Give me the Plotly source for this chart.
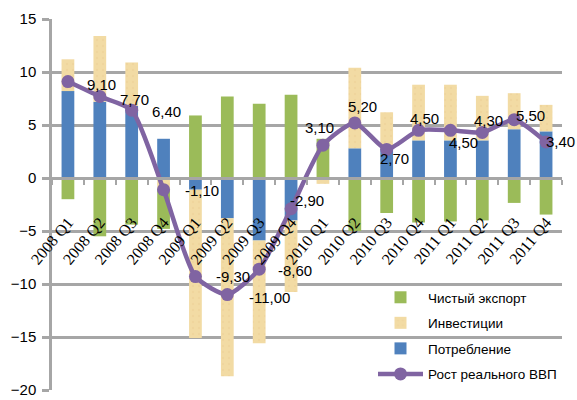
import plotly.graph_objects as go

categories = ["2008 Q1", "2008 Q2", "2008 Q3", "2008 Q4",
              "2009 Q1", "2009 Q2", "2009 Q3", "2009 Q4",
              "2010 Q1", "2010 Q2", "2010 Q3", "2010 Q4",
              "2011 Q1", "2011 Q2", "2011 Q3", "2011 Q4"]

consumption = [8.2, 7.2, 6.8, 3.7, -1.1, -3.8, -5.9, -4.0,
               0.0, 2.8, 2.8, 3.55, 3.55, 3.55, 4.6, 4.4]
investment = [3.0, 6.2, 4.1, -1.0, -14.0, -14.9, -9.7, -6.75,
              -0.55, 7.6, 3.4, 5.25, 5.25, 4.2, 3.4, 2.5]
net_export = [-2.0, -5.5, -4.4, -3.8, 5.9, 7.7, 7.0, 7.85,
              3.7, -5.0, -3.3, -4.2, -4.1, -4.0, -2.35, -3.45]
gdp_growth = [9.1, 7.7, 6.4, -1.1, -9.3, -11.0, -8.6, -2.9,
              3.1, 5.2, 2.7, 4.5, 4.5, 4.3, 5.5, 3.4]

y_ticks = [-20, -15, -10, -5, 0, 5, 10, 15]

# label offsets (pixels) relative to each point: (dx, dy) with dy positive = up
label_dx = [34, 35, 35, 38, 38, 42, 36, 16, -3, 8, 8, 6, 13, 6, 16, 14]
label_dy = [-3, -3, -1, -1, 0, -3, -1, 8, 18, 16, -9, 12, -12, 12, 4, 0]

COL_CONS = "#4F81BD"
COL_INV = "#F2DBA4"
COL_EXP = "#9BBB59"
COL_GDP = "#8064A2"
GRID = "#A6A6A6"

fig = go.Figure()
fig.add_trace(go.Bar(x=categories, y=consumption, name="Потребление",
                     marker=dict(color=COL_CONS, line_width=0), legendrank=3,
                     legendgroup="c"))
fig.add_trace(go.Bar(x=categories, y=investment, name="Инвестиции",
                     marker=dict(color=COL_INV, line_width=0,
                                 pattern=dict(shape=".", fgcolor="#EBD095",
                                              size=6, solidity=0.15)),
                     legendrank=2, legendgroup="i"))
fig.add_trace(go.Bar(x=categories, y=net_export, name="Чистый экспорт",
                     marker=dict(color=COL_EXP, line_width=0), legendrank=1,
                     legendgroup="e"))
fig.add_trace(go.Scatter(x=categories, y=gdp_growth, name="Рост реального ВВП",
                         mode="lines+markers",
                         line=dict(color=COL_GDP, width=4.5, shape="spline",
                                   smoothing=0.6),
                         marker=dict(color=COL_GDP, size=13),
                         legendrank=4, legendgroup="g"))

for i, (c, v) in enumerate(zip(categories, gdp_growth)):
    fig.add_annotation(x=c, y=v, text=f"{v:.2f}".replace(".", ","),
                       showarrow=False, xanchor="center", yanchor="middle",
                       xshift=label_dx[i], yshift=label_dy[i],
                       font=dict(family="Liberation Sans, Arial", size=15,
                                 color="black"))

fig.update_layout(
    width=577, height=400, autosize=False,
    margin=dict(l=52, r=15, t=19, b=10),
    paper_bgcolor="white", plot_bgcolor="white",
    barmode="relative", bargap=0.6,
    font=dict(family="Liberation Sans, Arial", size=15, color="black"),
    showlegend=True,
    legend=dict(x=1.0, y=0.0, xanchor="right", yanchor="bottom",
                bgcolor="rgba(0,0,0,0)", font=dict(size=13.5),
                tracegroupgap=5, itemwidth=45),
    xaxis=dict(type="category", range=[-0.5, len(categories) - 0.5],
               anchor="free", position=20 / 35,
               automargin=False,
               showline=True, linecolor=GRID, linewidth=2.5,
               ticks="outside", tickson="boundaries", ticklen=5,
               tickcolor=GRID, tickwidth=2,
               tickangle=-50, ticklabelstandoff=27,
               tickfont=dict(family="Liberation Serif, Times New Roman",
                             size=16),
               showgrid=False, zeroline=False),
    yaxis=dict(range=[-20, 15], tickvals=y_ticks, automargin=False,
               showline=True, linecolor=GRID, linewidth=2.5,
               ticks="outside", ticklen=7, tickcolor=GRID, tickwidth=2.5,
               ticklabelstandoff=3,
               showgrid=True, gridcolor=GRID, gridwidth=2.5,
               zeroline=False, tickfont=dict(size=15)),
)

fig.write_html("out.html",
               config={"displayModeBar": False, "responsive": False},
               post_script="document.body.style.margin='0';"
                           "document.body.style.overflow='hidden';")
